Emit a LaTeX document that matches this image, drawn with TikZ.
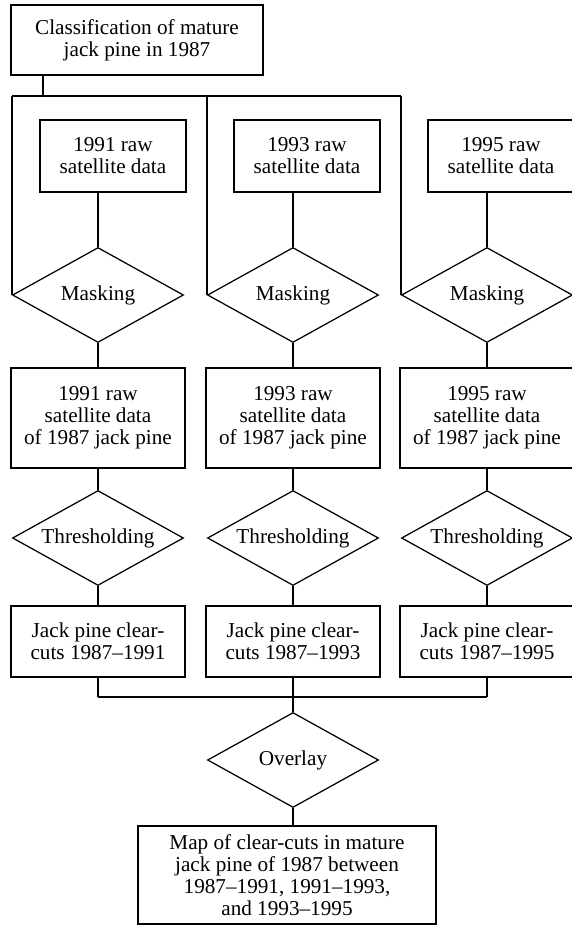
\documentclass[tikz,border=0pt]{standalone}
\usepackage{fontspec}
\setmainfont{Liberation Serif}
\usetikzlibrary{shapes.geometric}

\begin{document}
\begin{tikzpicture}[
    x=1pt, y=-1pt,
    every node/.style={font=\fontsize{21.2}{22}\selectfont, line width=1.25pt},
    box/.style={draw, align=center, inner sep=0pt},
    rawbox/.style={box, minimum width=146pt, minimum height=72pt},
    midbox/.style={box, minimum width=174pt, minimum height=100pt},
    cutbox/.style={box, minimum width=174pt, minimum height=71pt},
    decision/.style={draw, diamond, aspect=1.8, inner sep=0pt,
        minimum width=171pt, minimum height=95pt},
    link/.style={line width=1.25pt},
]
    \useasboundingbox (0,0) rectangle (572,926);

    % Source
    \node[box, minimum width=252pt, minimum height=70pt] (class) at (137, 40)
        {Classification of mature\\jack pine in 1987};

    % Raw satellite data
    \node[rawbox] (raw1) at (113, 156) {1991 raw\\satellite data};
    \node[rawbox] (raw2) at (307, 156) {1993 raw\\satellite data};
    \node[rawbox] (raw3) at (501, 156) {1995 raw\\satellite data};

    % Masking
    \node[decision] (mask1) at (98, 295) {Masking};
    \node[decision] (mask2) at (293, 295) {Masking};
    \node[decision] (mask3) at (487, 295) {Masking};

    % Masked data
    \node[midbox] (mid1) at (98, 418) {1991 raw\\satellite data\\of 1987 jack pine};
    \node[midbox] (mid2) at (293, 418) {1993 raw\\satellite data\\of 1987 jack pine};
    \node[midbox] (mid3) at (487, 418) {1995 raw\\satellite data\\of 1987 jack pine};

    % Thresholding
    \node[decision] (thr1) at (98, 538) {Thresholding};
    \node[decision] (thr2) at (293, 538) {Thresholding};
    \node[decision] (thr3) at (487, 538) {Thresholding};

    % Clear-cuts
    \node[cutbox] (cut1) at (98, 641.5) {Jack pine clear-\\cuts 1987--1991};
    \node[cutbox] (cut2) at (293, 641.5) {Jack pine clear-\\cuts 1987--1993};
    \node[cutbox] (cut3) at (487, 641.5) {Jack pine clear-\\cuts 1987--1995};

    % Overlay and result
    \node[decision] (overlay) at (293, 760) {Overlay};
    \node[box, minimum width=298pt, minimum height=98pt] (map) at (287, 875)
        {Map of clear-cuts in mature\\jack pine of 1987 between\\1987--1991, 1991--1993,\\and 1993--1995};

    \coordinate (split) at (43, 96);
    \coordinate (join) at (293, 697);

    % Distribution of the mask
    \draw[link] (class.south -| split) -- (split);
    \draw[link] (mask1.west |- split) -- (mask3.west |- split);
    \draw[link] (mask1.west |- split) -- (mask1.west);
    \draw[link] (mask2.west |- split) -- (mask2.west);
    \draw[link] (mask3.west |- split) -- (mask3.west);

    % Columns
    \draw[link] (mask1.north |- raw1.south) -- (mask1.north);
    \draw[link] (mask2.north |- raw2.south) -- (mask2.north);
    \draw[link] (mask3.north |- raw3.south) -- (mask3.north);
    \draw[link] (mask1.south) -- (mid1.north);
    \draw[link] (mask2.south) -- (mid2.north);
    \draw[link] (mask3.south) -- (mid3.north);
    \draw[link] (mid1.south) -- (thr1.north);
    \draw[link] (mid2.south) -- (thr2.north);
    \draw[link] (mid3.south) -- (thr3.north);
    \draw[link] (thr1.south) -- (cut1.north);
    \draw[link] (thr2.south) -- (cut2.north);
    \draw[link] (thr3.south) -- (cut3.north);

    % Merge
    \draw[link] (cut1.south) -- (cut1.south |- join);
    \draw[link] (cut2.south) -- (cut2.south |- join);
    \draw[link] (cut3.south) -- (cut3.south |- join);
    \draw[link] (cut1.south |- join) -- (cut3.south |- join);
    \draw[link] (join) -- (overlay.north);
    \draw[link] (overlay.south) -- (overlay.south |- map.north);
\end{tikzpicture}
\end{document}
